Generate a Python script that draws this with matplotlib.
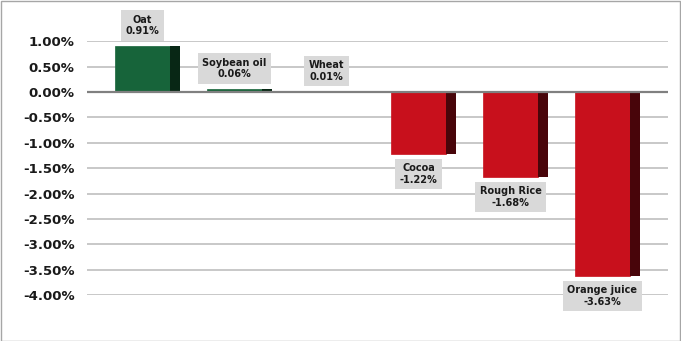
import matplotlib
matplotlib.use("Agg")
import matplotlib.pyplot as plt
from matplotlib.patches import Rectangle

categories = ["Oat", "Soybean oil", "Wheat", "Cocoa", "Rough Rice", "Orange juice"]
values = [0.91, 0.06, 0.01, -1.22, -1.68, -3.63]
yticks = [1.0, 0.5, 0.0, -0.5, -1.0, -1.5, -2.0, -2.5, -3.0, -3.5, -4.0]
ytick_labels = ["1.00%", "0.50%", "0.00%", "-0.50%", "-1.00%", "-1.50%", "-2.00%",
                "-2.50%", "-3.00%", "-3.50%", "-4.00%"]

W, H = 681, 341
fig = plt.figure(figsize=(W / 100, H / 100), dpi=100)
fig.patch.set_facecolor("white")
fig.patches.append(Rectangle((0.5 / W, 0.5 / H), 1 - 1.5 / W, 1 - 1.5 / H, transform=fig.transFigure,
                             fill=False, edgecolor="#A6A6A6", linewidth=1.0))

left, right = 87 / W, 668 / W
top, bottom = 1 - 41.3 / H, 1 - 295 / H
ax = fig.add_axes([left, bottom, right - left, top - bottom])
ax.set_ylim(-4.0, 1.0)
ax.set_xlim(-0.603, 5.712)
for s in ax.spines.values():
    s.set_visible(False)

for t in yticks:
    ax.axhline(t, color="#808080" if t == 0 else "#BFBFBF", linewidth=1.6 if t == 0 else 1.2,
               zorder=0 if t != 0 else 3)

ax.set_yticks(yticks)
ax.set_yticklabels(ytick_labels, fontsize=9.5, fontweight="bold", color="#1a1a1a")
ax.tick_params(axis="y", length=0, pad=9)
ax.set_xticks([])

front_w = 0.598
side_w = 0.109
x = list(range(len(categories)))
for xi, v in zip(x, values):
    if v >= 0:
        fc, sc = "#17643A", "#082715"
    else:
        fc, sc = "#C8101C", "#48050A"
    ax.bar(xi, v, width=front_w, color=fc, zorder=2, edgecolor=fc, linewidth=0.5)
    ax.bar(xi + front_w / 2, v, width=side_w, align="edge", color=sc, zorder=2, linewidth=0)

for xi, v, c in zip(x, values, categories):
    txt = f"{c}\n{v:.2f}%"
    if v >= 0:
        off, va = 7, "bottom"
    else:
        off, va = -6.5, "top"
    ax.annotate(txt, (xi, v), xytext=(0, off), textcoords="offset points",
                ha="center", va=va, fontsize=7, fontweight="bold", color="#1a1a1a",
                linespacing=1.2, annotation_clip=False, zorder=5,
                bbox=dict(boxstyle="square,pad=0.45", facecolor="#D9D9D9", edgecolor="none"))

fig.savefig("out.png", dpi=100)
